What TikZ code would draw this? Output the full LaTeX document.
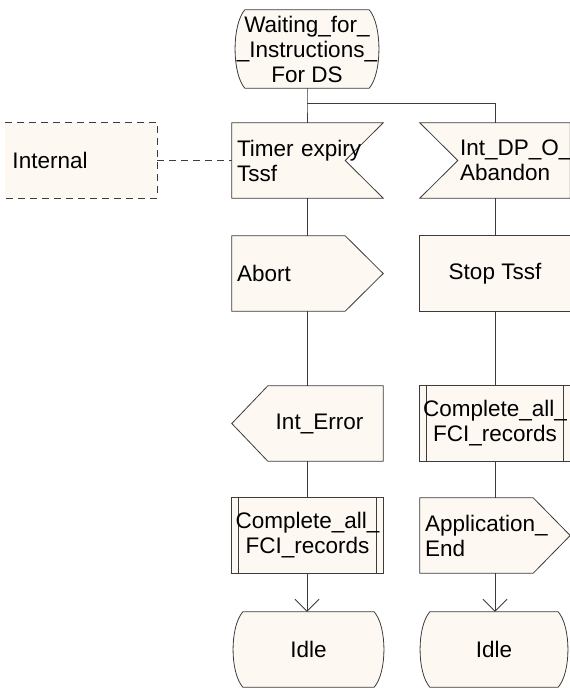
\documentclass[tikz,border=0pt]{standalone}
\usepackage{fontspec}
\setmainfont{Liberation Sans}
\usetikzlibrary{calc,arrows.meta}
\pgfdeclarelayer{background}
\pgfsetlayers{background,main}
\definecolor{cream}{RGB}{253,248,242}
\definecolor{edge}{RGB}{60,60,60}
\tikzset{
  sym/.style={draw=none, inner sep=0pt, minimum width=151pt, minimum height=75pt,
    font=\fontsize{22.5}{25}\selectfont},
  lft/.style={sym, align=left, text width=141pt, inner xsep=5pt},
  ctr/.style={sym, align=center},
  outl/.style={draw=edge, fill=cream, line width=0.8pt, line join=miter},
  conn/.style={draw=edge, line width=0.8pt},
  dsh/.style={conn, dash pattern=on 7pt off 5pt},
  arr/.style={conn, -{Straight Barb[length=12pt,width=24pt,line width=0.8pt]}},
}
\begin{document}
\begin{tikzpicture}[x=1pt,y=-1pt]
\useasboundingbox (0,0) rectangle (570,688);

% nodes
\node[ctr, minimum width=144pt, minimum height=78pt] (start) at (307,49) {Waiting\_for\_\\\_Instructions\_\\For DS};
\node[sym, align=left, text width=137pt, inner xsep=7pt, minimum width=152pt] (internal) at (81,160.5) {Internal};
\node[lft] (timer) at (307.5,160.5) {Timer expiry\\Tssf};
\node[lft, minimum width=150pt, text width=140pt] (dpo) at (495,160.5) {\hspace*{35pt}Int\_DP\_O\_\\\hspace*{35pt}Abandon};
\node[lft] (abort) at (307.5,273.5) {Abort};
\node[ctr, minimum width=150pt] (stop) at (495,273.5) {Stop Tssf};
\node[ctr] (interr) at (307.5,423.5) {\hspace*{24pt}Int\_Error};
\node[ctr, minimum width=150pt] (comp2) at (495,423.5) {Complete\_all\_\\FCI\_records};
\node[ctr] (comp1) at (307.5,535.5) {Complete\_all\_\\FCI\_records};
\node[lft, minimum width=150pt, text width=140pt] (app) at (495,535.5) {Application\_\\End};
\node[ctr] (idle1) at (308.5,649.5) {Idle};
\node[ctr, minimum width=148pt] (idle2) at (494,649.5) {Idle};
\coordinate (split) at (307,103);
\coordinate (splitR) at (495,103);

\begin{pgfonlayer}{background}
% state shapes
\foreach \n in {start,idle1,idle2}{
  \path[outl] ($(\n.north west)+(10,0)$) -- ($(\n.north east)+(-10,0)$)
    .. controls ($(\n.north east)+(3,15)$) and ($(\n.south east)+(3,-15)$) .. ($(\n.south east)+(-10,0)$)
    -- ($(\n.south west)+(10,0)$)
    .. controls ($(\n.south west)+(-3,-15)$) and ($(\n.north west)+(-3,15)$) .. cycle;
}
% internal (dashed, open left)
\path[fill=cream] (internal.north west) rectangle (internal.south east);
\draw[dsh] (internal.north west) -- (internal.north east) -- (internal.south east) -- (internal.south west);
% timer input (notch right)
\path[outl] (timer.north west) -- (timer.north east) -- ($(timer.east)+(-38,0)$) -- (timer.south east) -- (timer.south west) -- cycle;
% dpo input (notch left)
\path[outl] (dpo.north west) -- (dpo.north east) -- (dpo.south east) -- (dpo.south west) -- ($(dpo.west)+(38,0)$) -- cycle;
% abort output (right point)
\path[outl] (abort.north west) -- ($(abort.north east)+(-38,0)$) -- (abort.east) -- ($(abort.south east)+(-38,0)$) -- (abort.south west) -- cycle;
% stop task
\path[outl] (stop.north west) rectangle (stop.south east);
% int_error output (left point)
\path[outl] ($(interr.north west)+(36,0)$) -- (interr.north east) -- (interr.south east) -- ($(interr.south west)+(36,0)$) -- (interr.west) -- cycle;
% procedures
\foreach \n in {comp1,comp2}{
  \path[outl] (\n.north west) rectangle (\n.south east);
  \draw[conn] ($(\n.north west)+(7,0)$) -- ($(\n.south west)+(7,0)$);
  \draw[conn] ($(\n.north east)+(-7,0)$) -- ($(\n.south east)+(-7,0)$);
}
% application output
\path[outl] (app.north west) -- ($(app.north east)+(-37,0)$) -- (app.east) -- ($(app.south east)+(-37,0)$) -- (app.south west) -- cycle;
\end{pgfonlayer}

% connectors
\draw[conn] (start.south -| split) -- (split) -- (timer.north -| split);
\draw[conn] (split) -- (splitR) -- (dpo.north);
\draw[dsh] (internal.east) -- (timer.west);
\draw[conn] (timer.south -| split) -- (abort.north -| split);
\draw[conn] (abort.south -| split) -- (interr.north -| split);
\draw[conn] (interr.south -| split) -- (comp1.north -| split);
\draw[arr] (comp1.south -| split) -- (idle1.north -| split);
\draw[conn] (dpo.south) -- (stop.north);
\draw[conn] (stop.south) -- (comp2.north);
\draw[conn] (comp2.south) -- (app.north);
\draw[arr] (app.south) -- (idle2.north -| app.south);
\end{tikzpicture}
\end{document}
